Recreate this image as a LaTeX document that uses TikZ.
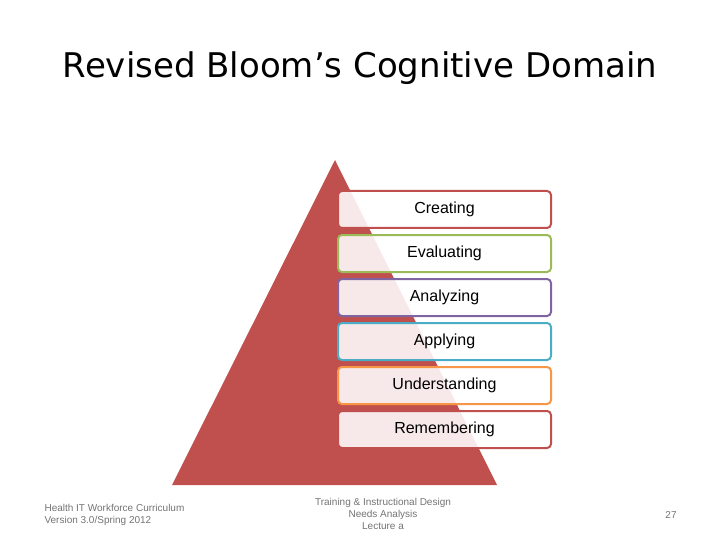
\documentclass[tikz,border=0pt]{standalone}
\usepackage{fontspec}
\setmainfont{Liberation Sans}
\newfontfamily\titlefont{DejaVu Sans}
\begin{document}
\begin{tikzpicture}[x=1pt,y=-1pt,
  lvl/.style={draw=#1,line width=2pt,fill=white,fill opacity=0.88,text opacity=1,rounded corners=4pt,minimum width=213pt,minimum height=37pt,font=\fontsize{16}{18}\selectfont,anchor=north west},
  foot/.style={font=\fontsize{10}{12}\selectfont,text=gray!90!black,align=center}]
\useasboundingbox (0,0) rectangle (720,540);
\definecolor{cr}{HTML}{C0504D}
\definecolor{cg}{HTML}{9BBB59}
\definecolor{cp}{HTML}{8064A2}
\definecolor{cc}{HTML}{4BACC6}
\definecolor{co}{HTML}{F79646}
\node[font=\titlefont\fontsize{34}{40}\selectfont] (title) at (360,68) {Revised Bloom’s Cognitive Domain};
\coordinate (apex) at (335,160);
\coordinate (bl) at (172,485);
\coordinate (br) at (497,485);
\fill[cr] (apex) -- (br) -- (bl) -- cycle;
\node[lvl=cr] (c) at (337,190) {Creating};
\node[lvl=cg] (e) at (337,234) {Evaluating};
\node[lvl=cp] (a) at (337,278) {Analyzing};
\node[lvl=cc] (p) at (337,322) {Applying};
\node[lvl=co] (u) at (337,366) {Understanding};
\node[lvl=cr] (r) at (337,410) {Remembering};
\node[foot,align=left,anchor=west] (f1) at (41,515) {Health IT Workforce Curriculum\\Version 3.0/Spring 2012};
\node[foot] (f2) at (383,514) {Training \& Instructional Design\\Needs Analysis\\Lecture a};
\node[foot] (f3) at (671,515) {27};
\end{tikzpicture}
\end{document}
